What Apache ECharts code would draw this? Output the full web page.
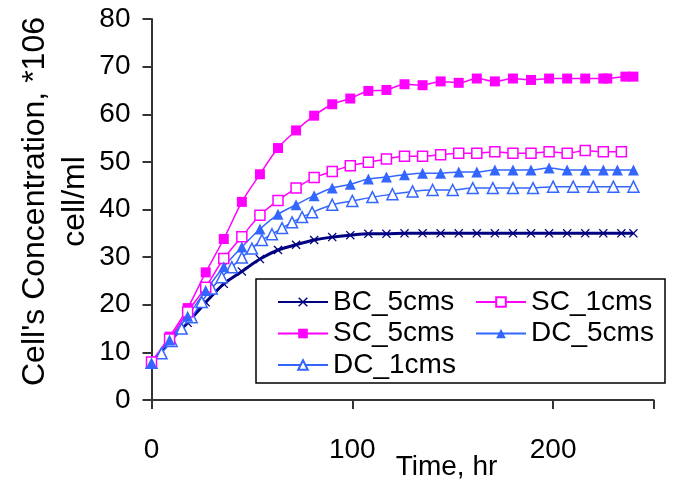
<!DOCTYPE html>
<html>
<head>
<meta charset="utf-8">
<script src="https://cdn.jsdelivr.net/npm/echarts@6/dist/echarts.min.js"></script>
<style>
html,body{margin:0;padding:0;background:#fff;}
#chart{width:689px;height:481px;}
</style>
</head>
<body>
<div id="chart"></div>
<script>
// ---- data ----
const seriesNames = ['BC_5cms', 'SC_5cms', 'DC_1cms', 'SC_1cms', 'DC_5cms'];

const bcTime = [0,9,18,27,36,45,54,63,72,81,90,99,108,117,126,135,144,153,162,171,180,189,198,207,216,225,234,240];
const bcVal  = [7.8,12.3,16.2,20.5,24.4,27.0,29.6,31.5,32.6,33.6,34.2,34.6,34.9,34.9,35.0,35.0,35.0,35.0,35.0,35.0,35.0,35.0,35.0,35.0,35.0,35.0,35.0,35.0];

const sc5Time = [0,9,18,27,36,45,54,63,72,81,90,99,108,117,126,135,144,153,162,171,180,189,198,207,216,225,227,236,240];
const sc5Val  = [8.0,13.3,19.3,26.8,33.8,41.6,47.4,52.9,56.6,59.7,62.1,63.3,64.9,65.1,66.3,66.1,66.9,66.6,67.5,66.9,67.5,67.2,67.5,67.5,67.5,67.5,67.5,67.9,67.9];

const sc1Time = [0,9,18,27,36,45,54,63,72,81,90,99,108,117,126,135,144,153,162,171,180,189,198,207,216,225,234];
const sc1Val  = [8.0,12.8,18.5,23.7,29.7,34.3,38.8,41.9,44.5,46.7,48.0,49.2,49.9,50.6,51.2,51.2,51.5,51.8,51.8,52.1,51.8,51.8,52.1,51.8,52.4,52.1,52.1];

const dc5Time = [0,9,18,27,36,45,54,63,72,81,90,99,108,117,126,135,144,153,162,171,180,189,198,207,216,225,232,240];
const dc5Val  = [7.8,12.6,17.6,23.0,28.0,32.1,35.9,39.0,41.0,42.9,44.5,45.3,46.4,46.8,47.3,47.6,47.6,47.9,47.9,48.3,48.3,48.3,48.7,48.3,48.3,48.3,48.3,48.3];

const dc1Time = [0,5,10,15,20,25,30,35,40,45,50,55,60,65,70,75,80,90,100,110,120,130,140,150,160,170,180,190,200,210,220,230,240];
const dc1Val  = [7.8,9.8,12.4,15.0,17.4,20.6,23.4,25.8,27.9,29.9,31.8,33.6,34.8,36.1,37.3,38.4,39.4,41.0,41.8,42.6,43.2,43.8,44.1,44.1,44.5,44.5,44.5,44.5,44.8,44.8,44.8,44.8,44.8];

const xTicks = [0, 100, 200];
const yTicks = [0, 10, 20, 30, 40, 50, 60, 70, 80];
const xTitle = 'Time, hr';
const yTitle = "Cell's Concentration, *106\ncell/ml";

// ---- build ----
function pairs(t, v) { return t.map((x, i) => [x, v[i]]); }

const MAG = '#FF00FF', BLUE = '#3366FF', NAVY = '#000080';
const FONT = 'Liberation Sans, Arial, sans-serif';
const crossPath = 'path://M0,1L1,0L5,4L9,0L10,1L6,5L10,9L9,10L5,6L1,10L0,9L4,5Z';

const series = [
  {name: 'BC_5cms', data: pairs(bcTime, bcVal), symbol: crossPath, symbolSize: 9,
   lineStyle: {color: NAVY, width: 3}, itemStyle: {color: NAVY}},
  {name: 'SC_5cms', data: pairs(sc5Time, sc5Val), symbol: 'rect', symbolSize: 10,
   lineStyle: {color: MAG, width: 1.5}, itemStyle: {color: MAG}},
  {name: 'DC_1cms', data: pairs(dc1Time, dc1Val), symbol: 'triangle', symbolSize: 11,
   lineStyle: {color: BLUE, width: 1.5}, itemStyle: {color: '#fff', borderColor: BLUE, borderWidth: 1.5}},
  {name: 'SC_1cms', data: pairs(sc1Time, sc1Val), symbol: 'rect', symbolSize: 10,
   lineStyle: {color: MAG, width: 1.5}, itemStyle: {color: '#fff', borderColor: MAG, borderWidth: 1.5}},
  {name: 'DC_5cms', data: pairs(dc5Time, dc5Val), symbol: 'triangle', symbolSize: 11,
   lineStyle: {color: BLUE, width: 1.5}, itemStyle: {color: BLUE}}
].map(s => Object.assign({type: 'line', smooth: 0.3, showSymbol: true, showAllSymbol: true,
  animation: false, emphasis: {disabled: true}}, s));

const axisCol = '#333';
const legendText = {fontFamily: FONT, fontSize: 28, color: '#000', lineHeight: 28};

const option = {
  animation: false,
  backgroundColor: '#fff',
  grid: {left: 151.5, top: 19, right: 689 - 653.5, bottom: 81, containLabel: false, outerBoundsMode: 'none'},
  xAxis: {
    type: 'value', min: 0, max: 250, interval: 100,
    name: xTitle, nameLocation: 'middle', nameGap: 53, nameMoveOverlap: false,
    nameTextStyle: {fontFamily: FONT, fontSize: 28, color: '#000', padding: [0, 0, 0, 88]},
    axisLine: {show: true, onZero: false, lineStyle: {color: axisCol, width: 2}},
    axisTick: {show: true, inside: false, length: 9, lineStyle: {color: axisCol, width: 2}},
    axisLabel: {fontFamily: FONT, fontSize: 28, color: '#000', margin: 36,
      formatter: v => xTicks.includes(v) ? String(v) : ''},
    splitLine: {show: false}
  },
  yAxis: {
    type: 'value', min: 0, max: 80, interval: 10,
    name: yTitle, nameLocation: 'middle', nameGap: 56, nameRotate: 90, nameMoveOverlap: false,
    nameTextStyle: {fontFamily: FONT, fontSize: 32, color: '#000', lineHeight: 40, padding: [0, 0, 0, 16]},
    axisLine: {show: true, onZero: false, lineStyle: {color: axisCol, width: 2}},
    axisTick: {show: true, inside: false, length: 9, lineStyle: {color: axisCol, width: 2}},
    axisLabel: {fontFamily: FONT, fontSize: 28, color: '#000', margin: 21,
      formatter: v => yTicks.includes(v) ? String(v) : ''},
    splitLine: {show: false}
  },
  legend: [
    {data: ['BC_5cms', 'SC_5cms', 'DC_1cms'], orient: 'vertical', left: 272, top: 283,
     itemWidth: 50, itemHeight: 12, itemGap: 3.5, textStyle: legendText, selectedMode: false},
    {data: ['SC_1cms', 'DC_5cms'], orient: 'vertical', left: 470, top: 283,
     itemWidth: 50, itemHeight: 12, itemGap: 3.5, textStyle: legendText, selectedMode: false}
  ],
  graphic: [
    {type: 'rect', shape: {x: 256, y: 279, width: 409, height: 104}, z: 0,
     style: {fill: '#fff', stroke: '#000', lineWidth: 1.5}}
  ],
  series: series
};

const chart = echarts.init(document.getElementById('chart'), null, {renderer: 'canvas'});
chart.setOption(option);
</script>
</body>
</html>
